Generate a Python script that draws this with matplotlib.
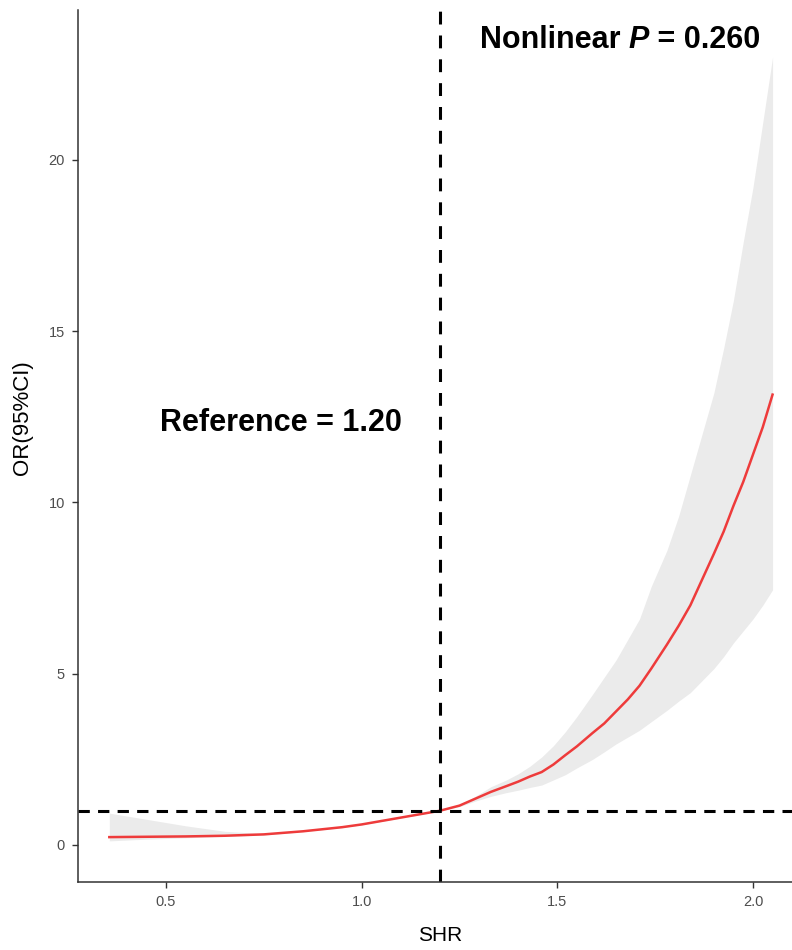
import matplotlib
matplotlib.use("Agg")
import matplotlib.pyplot as plt
from matplotlib.offsetbox import TextArea, HPacker, AnnotationBbox

plt.rcParams["font.family"] = ["Liberation Sans", "DejaVu Sans"]

# ---------------------------------------------------------------------------
# Data (SHR vs OR with 95% CI)
# ---------------------------------------------------------------------------
shr = [0.355, 0.45, 0.55, 0.65, 0.75, 0.85, 0.95, 1.00, 1.05, 1.10, 1.15,
       1.20, 1.25, 1.29, 1.33, 1.37, 1.40, 1.43, 1.46, 1.49, 1.52, 1.55,
       1.59, 1.62, 1.65, 1.68, 1.71, 1.74, 1.78, 1.81, 1.84, 1.87, 1.90,
       1.925, 1.95, 1.975, 2.00, 2.025, 2.05]
or_est = [0.23, 0.24, 0.25, 0.27, 0.31, 0.40, 0.52, 0.60, 0.70, 0.80, 0.90,
          1.00, 1.15, 1.35, 1.55, 1.72, 1.85, 2.00, 2.13, 2.35, 2.62, 2.88,
          3.27, 3.55, 3.90, 4.25, 4.65, 5.15, 5.85, 6.40, 7.00, 7.75, 8.50,
          9.15, 9.90, 10.60, 11.40, 12.20, 13.15]
or_low = [0.12, 0.17, 0.21, 0.25, 0.29, 0.39, 0.51, 0.59, 0.69, 0.79, 0.89,
          1.00, 1.12, 1.28, 1.42, 1.53, 1.60, 1.68, 1.75, 1.90, 2.05, 2.25,
          2.50, 2.72, 2.95, 3.15, 3.35, 3.60, 3.93, 4.20, 4.45, 4.80, 5.15,
          5.50, 5.90, 6.25, 6.60, 7.00, 7.45]
or_high = [0.93, 0.75, 0.56, 0.40, 0.33, 0.41, 0.53, 0.61, 0.71, 0.81, 0.91,
           1.00, 1.18, 1.42, 1.70, 1.90, 2.08, 2.30, 2.57, 2.90, 3.30, 3.75,
           4.40, 4.90, 5.40, 6.00, 6.60, 7.55, 8.60, 9.60, 10.80, 12.00,
           13.20, 14.50, 15.90, 17.60, 19.20, 21.10, 23.00]

ref_x = 1.20
ref_y = 1.0
x_ticks = [0.5, 1.0, 1.5, 2.0]
y_ticks = [0, 5, 10, 15, 20]

fig = plt.figure(figsize=(7.92, 9.5), dpi=100)
ax = fig.add_axes([0.0985, 0.0716, 0.914, 0.9179])

ax.fill_between(shr, or_low, or_high, color="#EBEBEB", linewidth=0)
ax.plot(shr, or_est, color="#EE3B3B", linewidth=1.8)

ax.axvline(ref_x, color="black", linewidth=2.2, dashes=(4.2, 3.6))
ax.axhline(ref_y, color="black", linewidth=2.2, dashes=(3.7, 2.7))

ax.set_xlim(0.275, 2.125)
ax.set_ylim(-1.08, 24.38)
ax.set_xticks(x_ticks)
ax.set_xticklabels(["0.5", "1.0", "1.5", "2.0"])
ax.set_yticks(y_ticks)

for side in ["top", "right"]:
    ax.spines[side].set_visible(False)
for side in ["left", "bottom"]:
    ax.spines[side].set_color("#333333")
    ax.spines[side].set_linewidth(1.1)
ax.tick_params(colors="#333333", labelcolor="#4D4D4D", labelsize=10.5,
               length=4.5, width=1.0, pad=5)

ax.set_xlabel("SHR", fontsize=15)
ax.set_ylabel("OR(95%CI)", fontsize=16)
ax.xaxis.set_label_coords(0.5, -0.05)
ax.yaxis.set_label_coords(-0.062, 0.532)

ax.text(0.794, 12.32, "Reference = 1.20", fontsize=22, fontweight="bold",
        ha="center", va="center")

parts = HPacker(children=[
    TextArea("Nonlinear ", textprops=dict(fontsize=22, fontweight="bold")),
    TextArea("P", textprops=dict(fontsize=22, fontweight="bold", style="italic")),
    TextArea(" = 0.260", textprops=dict(fontsize=22, fontweight="bold")),
], pad=0, sep=0, align="baseline")
ab = AnnotationBbox(parts, (1.66, 23.5), frameon=False, box_alignment=(0.5, 0.5))
ax.add_artist(ab)

fig.savefig("out.png", dpi=100)
